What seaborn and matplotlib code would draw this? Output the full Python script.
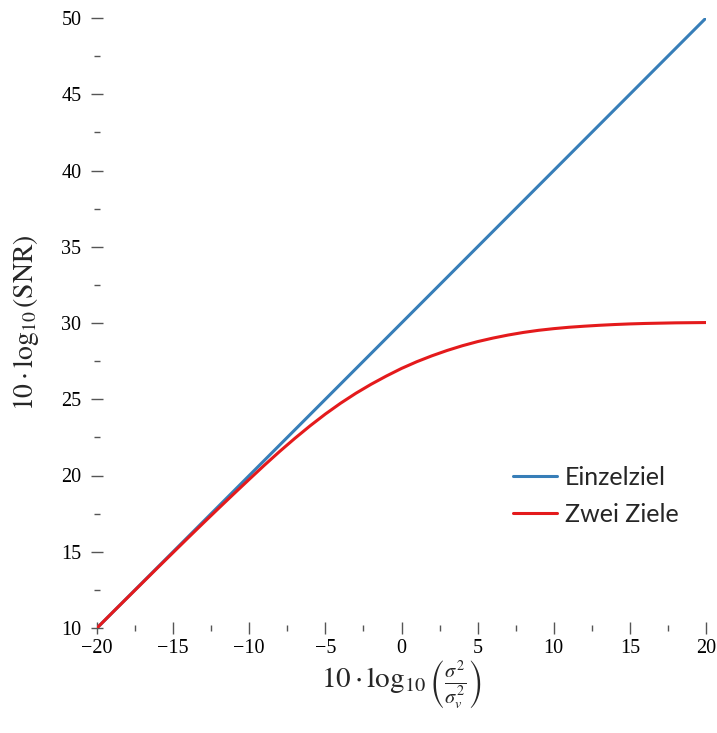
import numpy as np
import pandas as pd
import matplotlib
matplotlib.use("Agg")
import matplotlib.pyplot as plt
from matplotlib.ticker import MultipleLocator
import seaborn as sns

# ---- data ----
x_single = [-20, 20]
y_single = [10, 50]

x_two = list(range(-20, 21))
y_two = [10.0, 11.0, 11.99, 12.98, 13.97, 14.95, 15.93, 16.9, 17.86, 18.81,
         19.75, 20.68, 21.58, 22.44, 23.26, 24.03, 24.74, 25.39, 25.98, 26.52,
         27.02, 27.46, 27.85, 28.2, 28.51, 28.78, 29.01, 29.21, 29.38, 29.52,
         29.63, 29.72, 29.79, 29.85, 29.9, 29.94, 29.97, 29.99, 30.01, 30.02,
         30.03]

series_names = ["Einzelziel", "Zwei Ziele"]
colors = ["#377eb8", "#e41a1c"]

df = pd.concat([
    pd.DataFrame({"x": x_single, "y": y_single, "s": series_names[0]}),
    pd.DataFrame({"x": x_two, "y": y_two, "s": series_names[1]}),
], ignore_index=True)

sns.set_theme(style="white")
plt.rcParams["font.family"] = ["Liberation Serif", "DejaVu Serif"]
plt.rcParams["mathtext.fontset"] = "stix"

fig = plt.figure(figsize=(7.17, 7.33), dpi=100)
ax = fig.add_axes([97 / 717, 1 - 628 / 733, 609 / 717, 610 / 733])

sns.lineplot(data=df, x="x", y="y", hue="s", palette=colors, linewidth=2.2,
             ax=ax, legend=True, sort=False)

ax.set_xlim(-20, 20)
ax.set_ylim(10, 50)
for s in ax.spines.values():
    s.set_visible(False)

ax.xaxis.set_major_locator(MultipleLocator(5))
ax.xaxis.set_minor_locator(MultipleLocator(2.5))
ax.yaxis.set_major_locator(MultipleLocator(5))
ax.yaxis.set_minor_locator(MultipleLocator(2.5))
ax.tick_params(which="major", direction="inout", length=8.5, width=1.0,
               color="#555555", labelsize=14.5, labelcolor="black",
               left=True, bottom=True)
ax.tick_params(axis="y", which="major", pad=7)
ax.tick_params(axis="x", which="major", pad=4)
ax.tick_params(which="minor", direction="inout", length=5, width=1.0,
               color="#555555", left=True, bottom=True)

ax.set_xlabel(r"$10\cdot\log_{10}\left(\frac{\sigma^2}{\sigma_v^2}\right)$",
              fontsize=21)
ax.set_ylabel(r"$10\cdot\log_{10}(\mathrm{SNR})$", fontsize=20)
ax.xaxis.set_label_coords(0.5, -0.05)
ax.yaxis.set_label_coords(-0.092, 0.5)

handles, labels = ax.get_legend_handles_labels()
leg = ax.legend(handles, labels, loc="center left",
                bbox_to_anchor=((513 - 97) / 609, (628 - 496) / 610),
                frameon=False, borderpad=0, borderaxespad=0,
                handlelength=1.75, handletextpad=0.32, labelspacing=0.55,
                prop={"family": "Lato", "size": 18})
for line in leg.get_lines():
    line.set_linewidth(2.2)

fig.savefig("out.png", dpi=100)
